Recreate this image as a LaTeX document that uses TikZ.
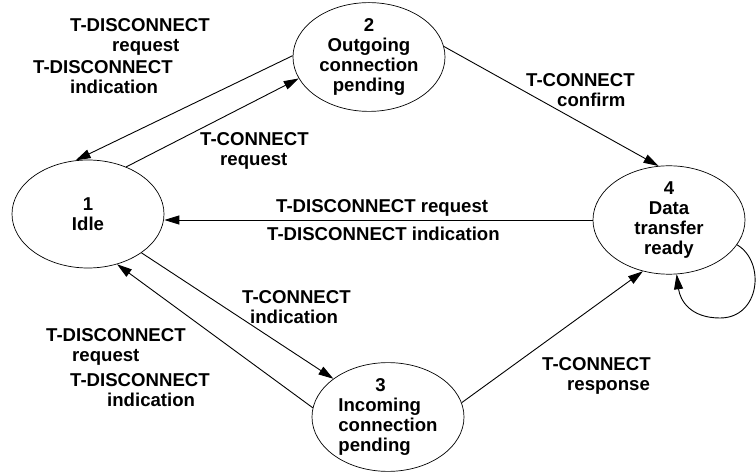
\documentclass[tikz,border=0pt]{standalone}
\usepackage{fontspec}
\setmainfont{Liberation Sans}
\usetikzlibrary{shapes.geometric,arrows.meta}

\tikzset{
  state/.style={ellipse, draw, line width=0.7pt, minimum width=152pt,
    minimum height=108pt, inner sep=0pt, align=center},
  arr/.style={line width=0.9pt, -{Triangle[length=15pt,width=9pt]}},
  lbl/.style={anchor=north west, inner sep=0pt, align=left},
  every node/.style={font=\fontsize{18.6}{20}\selectfont\bfseries}
}

\begin{document}
\begin{tikzpicture}[x=1pt, y=-1pt]
  \useasboundingbox (0,0) rectangle (756,473);

  % states
  \node[state] (s1) at (88,214)  {1\\Idle};
  \node[state] (s2) at (369,57)  {2\\Outgoing\\connection\\pending};
  \node[state, align=left] (s3) at (388,417)
    {\hspace*{37pt}3\\Incoming\\connection\\pending};
  \node[state] (s4) at (669,220) {4\\Data\\transfer\\ready};

  % transitions
  \draw[arr] (s2.179) -- (s1.103);
  \draw[arr] (s1.51)  -- (s2.-163);
  \draw[arr] (s2.8)   -- (s4.101);
  \draw[arr] (s4.west) -- (s4.west -| s1.east);
  \draw[arr] (s1.-36) -- (s3.145);
  \draw[arr] (s3.173) -- (s1.-60);
  \draw[arr] (s3.11)  -- (s4.-117);
  \draw[arr] (s4.-20) .. controls (766,262) and (760,318) .. (720,318)
                      .. controls (690,318) and (680,300) .. (s4.-82);

  % transition labels
  \node[lbl] (l1) at (70,18)   {T-DISCONNECT\\\hspace*{42pt}request};
  \node[lbl] (l2) at (33,60)   {T-DISCONNECT\\\hspace*{37pt}indication};
  \node[lbl] (l3) at (200,132) {T-CONNECT\\\hspace*{20pt}request};
  \node[lbl] (l4) at (526,73)  {T-CONNECT\\\hspace*{31pt}confirm};
  \node[lbl] (l5) at (276,199) {T-DISCONNECT request};
  \node[lbl] (l6) at (267,227) {T-DISCONNECT indication};
  \node[lbl] (l7) at (242,290) {T-CONNECT\\\hspace*{8pt}indication};
  \node[lbl] (l8) at (46,328)  {T-DISCONNECT\\\hspace*{26pt}request};
  \node[lbl] (l9) at (70,373)  {T-DISCONNECT\\\hspace*{37pt}indication};
  \node[lbl] (l10) at (542,357) {T-CONNECT\\\hspace*{25pt}response};
\end{tikzpicture}
\end{document}
